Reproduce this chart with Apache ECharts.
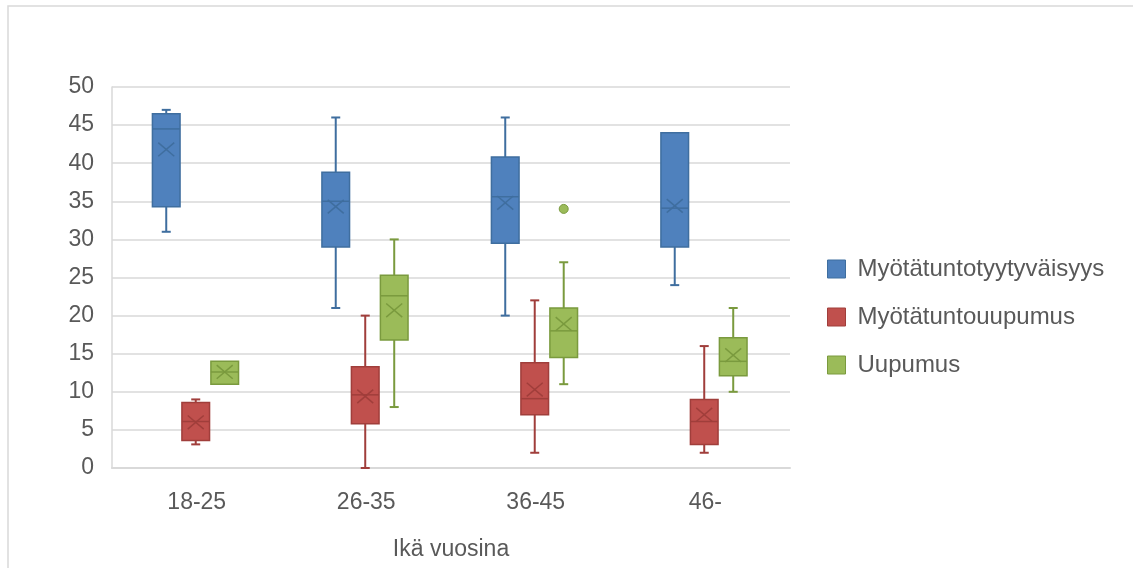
<!DOCTYPE html>
<html>
<head>
<meta charset="utf-8">
<script src="https://cdn.jsdelivr.net/npm/echarts@6/dist/echarts.min.js"></script>
<style>
  html, body { margin: 0; padding: 0; background: #ffffff; }
  #chart { width: 1133px; height: 568px; }
</style>
</head>
<body>
<div id="chart"></div>
<script>
// ---- Data ----
var categories = ['18-25', '26-35', '36-45', '46-'];
var yTicks = [0, 5, 10, 15, 20, 25, 30, 35, 40, 45, 50];
var seriesNames = ['Myötätuntotyytyväisyys', 'Myötätuntouupumus', 'Uupumus'];

// Myötätuntotyytyväisyys
var satMin    = [31, 21, 20, 24];
var satQ1     = [34.3, 29, 29.5, 29];
var satMedian = [44.5, 35, 35.6, 34.1];
var satQ3     = [46.5, 38.8, 40.8, 44];
var satMax    = [47, 46, 46, 44];
var satMean   = [41.8, 34.3, 34.8, 34.4];
var satOutliers = [[], [], [], []];

// Myötätuntouupumus
var fatMin    = [3.1, 0, 2, 2];
var fatQ1     = [3.6, 5.8, 7, 3.1];
var fatMedian = [6.1, 9.6, 9.1, 6.1];
var fatQ3     = [8.6, 13.3, 13.8, 9];
var fatMax    = [9, 20, 22, 16];
var fatMean   = [6.0, 9.4, 10.3, 7.0];
var fatOutliers = [[], [], [], []];

// Uupumus
var burMin    = [11, 8, 11, 10];
var burQ1     = [11, 16.8, 14.5, 12.1];
var burMedian = [12.6, 22.6, 18, 14];
var burQ3     = [14, 25.3, 21, 17.1];
var burMax    = [14, 30, 27, 21];
var burMean   = [12.6, 20.7, 18.9, 14.8];
var burOutliers = [[], [], [34], []];

// ---- Styling ----
var fills   = ['#4F81BD', '#C0504D', '#9BBB59'];
var borders = ['#3F6E9F', '#A03E3B', '#7A9A3E'];
var offsets = [-0.18, -0.006, 0.165];   // fraction of category band
var boxFrac = 0.163;

function buildData(mn, q1, md, q3, mx, mean) {
  return categories.map(function (c, i) {
    return [i, mn[i], q1[i], md[i], q3[i], mx[i], mean[i]];
  });
}
function buildOutliers(out) {
  var arr = [];
  out.forEach(function (list, i) { list.forEach(function (v) { arr.push([i, v]); }); });
  return arr;
}

function makeBoxRender(k) {
  return function (params, api) {
    var idx = api.value(0);
    var band = api.size([1, 0])[0];
    var cx = api.coord([idx, 0])[0] + offsets[k] * band;
    var w = boxFrac * band;
    var yMin = api.coord([idx, api.value(1)])[1];
    var yQ1  = api.coord([idx, api.value(2)])[1];
    var yMed = api.coord([idx, api.value(3)])[1];
    var yQ3  = api.coord([idx, api.value(4)])[1];
    var yMax = api.coord([idx, api.value(5)])[1];
    var yMean= api.coord([idx, api.value(6)])[1];
    var cap = 4.5, xs = 8;
    var lineStyle = { stroke: borders[k], lineWidth: 2 };
    var children = [];
    if (Math.abs(yMin - yQ1) > 0.5) {
      children.push({ type: 'line', shape: { x1: cx, y1: yQ1, x2: cx, y2: yMin }, style: lineStyle });
      children.push({ type: 'line', shape: { x1: cx - cap, y1: yMin, x2: cx + cap, y2: yMin }, style: lineStyle });
    }
    if (Math.abs(yMax - yQ3) > 0.5) {
      children.push({ type: 'line', shape: { x1: cx, y1: yQ3, x2: cx, y2: yMax }, style: lineStyle });
      children.push({ type: 'line', shape: { x1: cx - cap, y1: yMax, x2: cx + cap, y2: yMax }, style: lineStyle });
    }
    children.push({ type: 'rect', shape: { x: cx - w / 2, y: yQ3, width: w, height: yQ1 - yQ3 },
      style: { fill: fills[k], stroke: borders[k], lineWidth: 1.5 } });
    children.push({ type: 'line', shape: { x1: cx - w / 2, y1: yMed, x2: cx + w / 2, y2: yMed },
      style: { stroke: borders[k], lineWidth: 1.5 } });
    children.push({ type: 'line', shape: { x1: cx - xs, y1: yMean - xs * 0.85, x2: cx + xs, y2: yMean + xs * 0.85 },
      style: { stroke: borders[k], lineWidth: 1.5 } });
    children.push({ type: 'line', shape: { x1: cx - xs, y1: yMean + xs * 0.85, x2: cx + xs, y2: yMean - xs * 0.85 },
      style: { stroke: borders[k], lineWidth: 1.5 } });
    return { type: 'group', children: children };
  };
}

function makeOutlierRender(k) {
  return function (params, api) {
    var idx = api.value(0);
    var band = api.size([1, 0])[0];
    var p = api.coord([idx, api.value(1)]);
    return { type: 'circle', shape: { cx: p[0] + offsets[k] * band, cy: p[1], r: 4.5 },
      style: { fill: fills[k], stroke: borders[k], lineWidth: 1 } };
  };
}

var allData = [
  buildData(satMin, satQ1, satMedian, satQ3, satMax, satMean),
  buildData(fatMin, fatQ1, fatMedian, fatQ3, fatMax, fatMean),
  buildData(burMin, burQ1, burMedian, burQ3, burMax, burMean)
];
var allOut = [buildOutliers(satOutliers), buildOutliers(fatOutliers), buildOutliers(burOutliers)];

var series = [];
seriesNames.forEach(function (name, k) {
  series.push({
    name: name, type: 'custom', renderItem: makeBoxRender(k), data: allData[k],
    encode: { x: 0, y: [1, 2, 3, 4, 5, 6] },
    itemStyle: { color: fills[k], borderColor: borders[k] }, silent: true
  });
  series.push({
    name: name, type: 'custom', renderItem: makeOutlierRender(k), data: allOut[k],
    encode: { x: 0, y: 1 },
    itemStyle: { color: fills[k], borderColor: borders[k] }, silent: true
  });
});

var textColor = '#595959';
var fontFam = '"Liberation Sans", Arial, sans-serif';

var chart = echarts.init(document.getElementById('chart'), null, { renderer: 'canvas' });
chart.setOption({
  animation: false,
  backgroundColor: '#ffffff',
  graphic: [{
    type: 'rect', shape: { x: 8, y: 6, width: 1300, height: 800 },
    style: { fill: 'none', stroke: '#d9d9d9', lineWidth: 1.5 }, z: -10, silent: true
  }],
  grid: { left: 112, right: 343, top: 87, bottom: 100, containLabel: false, outerBoundsMode: 'none' },
  legend: {
    orient: 'vertical', left: 827, top: 257, padding: 0,
    itemWidth: 18, itemHeight: 18, itemGap: 24,
    icon: 'rect',
    textStyle: { color: textColor, fontSize: 24, fontFamily: fontFam, padding: [0, 0, 0, 7] },
    data: seriesNames.map(function (n, k) {
      return { name: n, itemStyle: { color: fills[k], borderColor: borders[k], borderWidth: 1 } };
    })
  },
  xAxis: {
    type: 'category', data: categories,
    name: 'Ikä vuosina', nameLocation: 'middle', nameGap: 70,
    nameTextStyle: { color: textColor, fontSize: 23, fontFamily: fontFam },
    axisLine: { show: true, lineStyle: { color: '#d9d9d9', width: 2 } },
    axisTick: { show: false },
    axisLabel: { color: textColor, fontSize: 23, fontFamily: fontFam, margin: 23 },
    splitLine: { show: false }
  },
  yAxis: {
    type: 'value', min: yTicks[0], max: yTicks[yTicks.length - 1], interval: yTicks[1] - yTicks[0],
    axisLine: { show: true, lineStyle: { color: '#d9d9d9', width: 1.5 } },
    axisTick: { show: false },
    axisLabel: { color: textColor, fontSize: 23, fontFamily: fontFam, margin: 18 },
    splitLine: { show: true, lineStyle: { color: '#d9d9d9', width: 1.5 } }
  },
  series: series
});
</script>
</body>
</html>
